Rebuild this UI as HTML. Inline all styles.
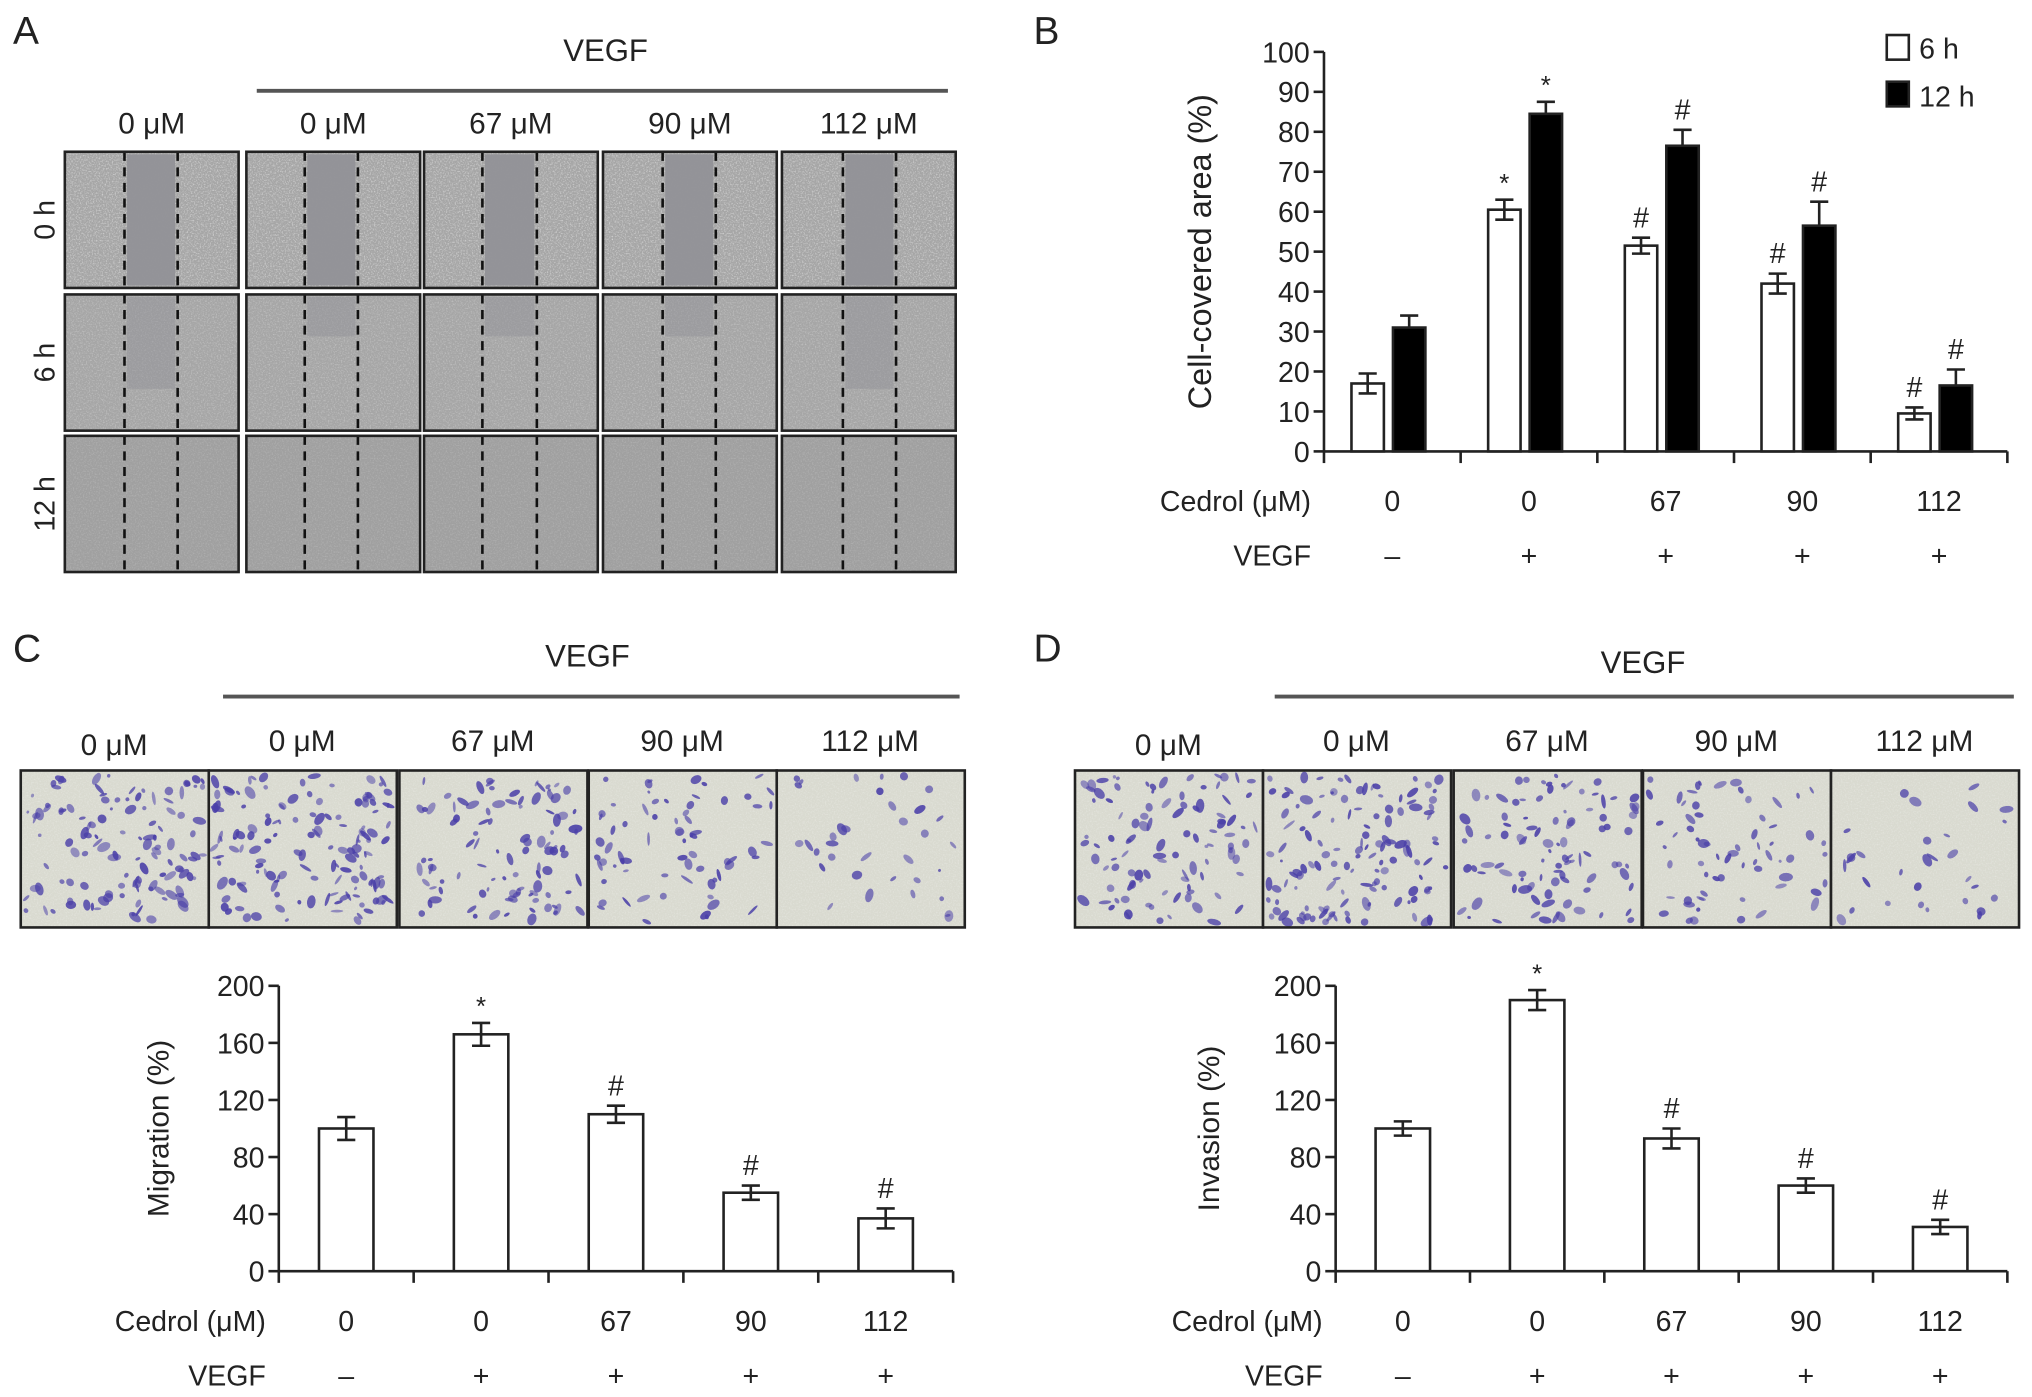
<!DOCTYPE html>
<html><head><meta charset="utf-8"><style>
html,body{margin:0;padding:0;background:#fff;}
svg{display:block;}
text{font-family:"Liberation Sans",Arial,sans-serif;fill:#222;}
</style></head><body>
<svg id="fig" width="2032" height="1397" viewBox="0 0 1567 1077" preserveAspectRatio="none" xmlns="http://www.w3.org/2000/svg">
<defs>
<filter id="grain" x="0" y="0" width="100%" height="100%"><feTurbulence type="fractalNoise" baseFrequency="0.9" numOctaves="2" seed="3"/><feColorMatrix values="0 0 0 0 1  0 0 0 0 1  0 0 0 0 1  0 0 0 1.6 -0.75"/></filter>
</defs>
<g id="panelA"></g>
<g id="panelB"></g>
<g id="panelC"></g>
<g id="panelD"></g>
</svg>
<script>
// ---- data ----
const cedrolLabels = ["0","0","67","90","112"];
const vegfLabels = ["\u2013","+","+","+","+"];
const doseLabels = ["0 \u03bcM","0 \u03bcM","67 \u03bcM","90 \u03bcM","112 \u03bcM"];
const areaTicks = [0,10,20,30,40,50,60,70,80,90,100];
const area6h = [17,60.5,51.5,42,9.5];
const area6hErr = [2.5,2.5,2,2.5,1.5];
const area12h = [31,84.5,76.5,56.5,16.5];
const area12hErr = [3,3,4,6,4];
const area6hMarks = ["","*","#","#","#"];
const area12hMarks = ["","*","#","#","#"];
const pctTicks = [0,40,80,120,160,200];
const migration = [100,166,110,55,37];
const migrationErr = [8,8,6,5,7];
const migrationMarks = ["","*","#","#","#"];
const invasion = [100,190,93,60,31];
const invasionErr = [5,7,7,5,5];
const invasionMarks = ["","*","#","#","#"];

const NS="http://www.w3.org/2000/svg";
function mk(tag,attrs,parent,txt){const e=document.createElementNS(NS,tag);for(const k in attrs)e.setAttribute(k,attrs[k]);if(txt!==undefined)e.textContent=txt;parent.appendChild(e);return e;}
let seed=7;function rnd(){seed=(seed*16807)%2147483647;return seed/2147483647;}

// ---- Panel A ----
const A=document.getElementById('panelA');
let t=mk('text',{x:10,y:34,'font-size':30},A,'A');
t=mk('text',{x:467,y:47,'font-size':24,'text-anchor':'middle'},A,'VEGF');
t=mk('line',{x1:198,y1:70,x2:731,y2:70,stroke:'#555','stroke-width':3},A);
const colX=[50,190,327,465,603], colW=134, rowY=[117,227,336], rowH=105;
const gapL=[96,235,372,511,650], gapR=[137,276,414,552,691];
const rowLab=["0 h","6 h","12 h"];
doseLabels.forEach((d,i)=>{t=mk('text',{x:colX[i]+colW/2,y:103,'font-size':23,'text-anchor':'middle'},A,d);});
rowY.forEach((y,r)=>{
 t=mk('text',{x:0,y:0,'font-size':22,'text-anchor':'middle',transform:`translate(42,${y+rowH/2}) rotate(-90)`},A,rowLab[r]);
 colX.forEach((x,c)=>{
  const g=mk('g',{},A);
  mk('rect',{x:x,y:y,width:colW,height:rowH,fill:r==2?'#a0a0a0':'#a6a6a6'},g);
  mk('rect',{x:x,y:y,width:colW,height:rowH,filter:'url(#grain)',opacity:r==0?0.8:(r==1?0.5:0.3)},g);
  if(r<2){const gw=(r==0?1:(c==0||c==4?0.7:0.3));mk('rect',{x:gapL[c]+2,y:y+2,width:gapR[c]-gapL[c]-4,height:(rowH-4)*gw,fill:'#919197',opacity:r==0?0.95:0.5},g);}
  mk('line',{x1:gapL[c],y1:y,x2:gapL[c],y2:y+rowH,stroke:'#111','stroke-width':2,'stroke-dasharray':'7,5'},g);
  mk('line',{x1:gapR[c],y1:y,x2:gapR[c],y2:y+rowH,stroke:'#111','stroke-width':2,'stroke-dasharray':'7,5'},g);
  mk('rect',{x:x,y:y,width:colW,height:rowH,fill:'none',stroke:'#222','stroke-width':2},g);
 });
});

// ---- bar chart helper ----
function chart(P,o){
 const y=v=>o.y0-(v-o.vmin)/(o.vmax-o.vmin)*(o.y0-o.ytop);
 const ax=mk('g',{},P);
 mk('line',{x1:o.x0,y1:o.ytop,x2:o.x0,y2:o.y0,stroke:'#222','stroke-width':2},ax);
 o.ticks.forEach(v=>{mk('line',{x1:o.x0-8,y1:y(v),x2:o.x0,y2:y(v),stroke:'#222','stroke-width':2},ax);
  const tl=mk('text',{x:o.x0-11,y:y(v)+8,'font-size':22,'text-anchor':'end'},ax,String(v));});
 const tt=mk('text',{x:0,y:0,'font-size':o.titleSize||23,'text-anchor':'middle',transform:`translate(${o.titleX},${(o.y0+o.ytop)/2}) rotate(-90)`},P,o.title);
 const xa=mk('g',{},P);
 const gw=(o.x1-o.x0)/5;
 mk('line',{x1:o.x0,y1:o.y0,x2:o.x1,y2:o.y0,stroke:'#222','stroke-width':2},xa);
 for(let i=0;i<=5;i++)mk('line',{x1:o.x0+i*gw,y1:o.y0,x2:o.x0+i*gw,y2:o.y0+9,stroke:'#222','stroke-width':2},xa);
 let l=mk('text',{x:o.x0-10,y:o.y0+46,'font-size':22,'text-anchor':'end'},xa,'Cedrol (\u03bcM)');
 l=mk('text',{x:o.x0-10,y:o.y0+88,'font-size':22,'text-anchor':'end'},xa,'VEGF');
 cedrolLabels.forEach((c,i)=>{const cx=o.x0+gw*(i+0.5);
  let a=mk('text',{x:cx,y:o.y0+46,'font-size':22,'text-anchor':'middle'},xa,c);
  a=mk('text',{x:cx,y:o.y0+88,'font-size':22,'text-anchor':'middle'},xa,vegfLabels[i]);});
 o.series.forEach((s,si)=>{
  s.vals.forEach((v,i)=>{
   const cx=o.x0+gw*(i+0.5)+s.off, top=y(v);
   const b=mk('rect',{x:cx-o.bw/2,y:top,width:o.bw,height:o.y0-top,fill:s.fill,stroke:'#222','stroke-width':2},P);
   
   const e=mk('g',{},P);
   const hi=y(v+s.err[i]), lo=y(v-s.err[i]);
   mk('line',{x1:cx,y1:hi,x2:cx,y2:s.fill=='#000'?top:lo,stroke:'#222','stroke-width':2},e);
   mk('line',{x1:cx-7,y1:hi,x2:cx+7,y2:hi,stroke:'#222','stroke-width':2},e);
   if(s.fill!='#000')mk('line',{x1:cx-7,y1:lo,x2:cx+7,y2:lo,stroke:'#222','stroke-width':2},e);
   if(s.marks[i]){const m=mk('text',{x:cx,y:hi-(s.marks[i]=='*'?6:8),'font-size':s.marks[i]=='*'?20:22,'text-anchor':'middle'},P,s.marks[i]);}
  });
 });
}

// ---- Panel B ----
const B=document.getElementById('panelB');
t=mk('text',{x:797,y:34,'font-size':30},B,'B');
chart(B,{x0:1021,x1:1548,y0:348,ytop:40,vmin:0,vmax:100,ticks:areaTicks,title:'Cell-covered area (%)',titleX:934,titleSize:25,bw:25,
 series:[{name:'6h',vals:area6h,err:area6hErr,marks:area6hMarks,fill:'#fff',off:-19},{name:'12h',vals:area12h,err:area12hErr,marks:area12hMarks,fill:'#000',off:13}]});
const lg=mk('g',{},B);
mk('rect',{x:1455,y:27,width:17,height:19,fill:'#fff',stroke:'#222','stroke-width':2},lg);
mk('text',{x:1480,y:45,'font-size':22},lg,'6 h');
mk('rect',{x:1455,y:63,width:17,height:19,fill:'#000',stroke:'#222','stroke-width':2},lg);
mk('text',{x:1480,y:82,'font-size':22},lg,'12 h');

// ---- stained image strips ----
function strip(P,xs,ws,y,h,dens){
 xs.forEach((x,i)=>{
  const g=mk('g',{},P);
  mk('rect',{x:x,y:y,width:ws,height:h,fill:'#d9dad0'},g);
  mk('rect',{x:x,y:y,width:ws,height:h,filter:'url(#grain)',opacity:0.45},g);
  for(let k=0;k<dens[i];k++){const cx=x+4+rnd()*(ws-8),cy=y+4+rnd()*(h-8);
   mk('ellipse',{cx:cx,cy:cy,rx:1+rnd()*2.5,ry:1+rnd()*4.5,transform:`rotate(${Math.floor(rnd()*180)} ${cx} ${cy})`,fill:'#4a3fa8',opacity:0.5+rnd()*0.4},g);}
  mk('rect',{x:x,y:y,width:ws,height:h,fill:'none',stroke:'#222','stroke-width':2},g);
 });
}

// ---- Panel C ----
const C=document.getElementById('panelC');
t=mk('text',{x:10,y:510,'font-size':30},C,'C');
t=mk('text',{x:453,y:514,'font-size':24,'text-anchor':'middle'},C,'VEGF');
mk('line',{x1:172,y1:537,x2:740,y2:537,stroke:'#555','stroke-width':3},C);
const cX=[16,161,308,454,599];
doseLabels.forEach((d,i)=>{t=mk('text',{x:cX[i]+72,y:i==0?582:579,'font-size':23,'text-anchor':'middle'},C,d);});
strip(C,cX,145,594,121,[120,140,100,70,35]);
chart(C,{x0:215,x1:735,y0:980,ytop:760,vmin:0,vmax:200,ticks:pctTicks,title:'Migration (%)',titleX:130,bw:42,
 series:[{name:'migration',vals:migration,err:migrationErr,marks:migrationMarks,fill:'#fff',off:0}]});

// ---- Panel D ----
const D=document.getElementById('panelD');
t=mk('text',{x:797,y:510,'font-size':30},D,'D');
t=mk('text',{x:1267,y:519,'font-size':24,'text-anchor':'middle'},D,'VEGF');
mk('line',{x1:983,y1:537,x2:1553,y2:537,stroke:'#555','stroke-width':3},D);
const dX=[829,974,1121,1267,1412];
doseLabels.forEach((d,i)=>{t=mk('text',{x:dX[i]+72,y:i==0?582:579,'font-size':23,'text-anchor':'middle'},D,d);});
strip(D,dX,145,594,121,[100,130,95,65,30]);
chart(D,{x0:1030,x1:1548,y0:980,ytop:760,vmin:0,vmax:200,ticks:pctTicks,title:'Invasion (%)',titleX:940,bw:42,
 series:[{name:'invasion',vals:invasion,err:invasionErr,marks:invasionMarks,fill:'#fff',off:0}]});
</script>
</body></html>
